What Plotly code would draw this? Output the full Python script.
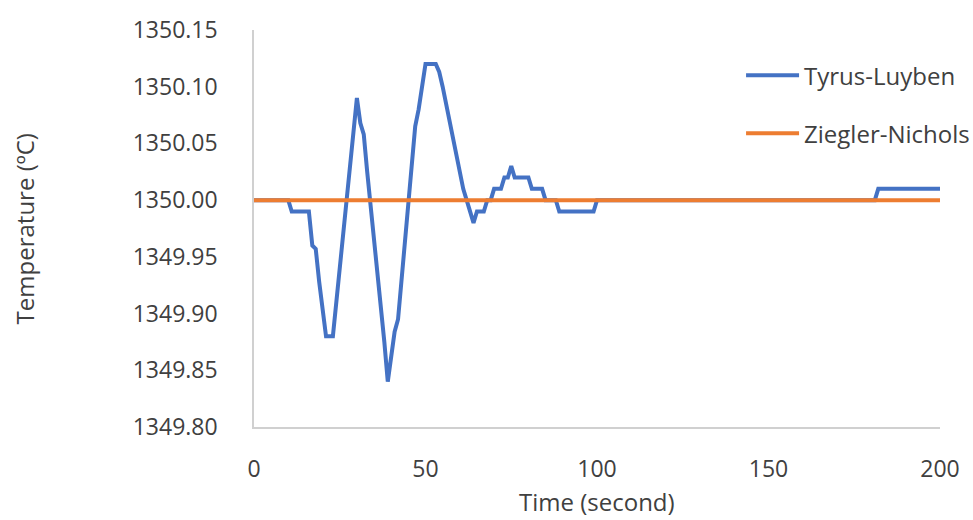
import plotly.graph_objects as go

# Tyrus-Luyben tuned response: breakpoints of the furnace temperature trace
tl_time = [0, 10, 11, 16, 17, 18, 19, 20, 21, 23, 24, 25, 26, 27, 28, 29, 30,
           31, 32, 33, 34, 35, 36, 37, 38, 39, 40, 41, 42, 43, 44, 45, 46, 47,
           48, 49, 50, 53, 54, 55, 56, 57, 58, 59, 60, 61, 62, 63, 64, 65, 67,
           68, 69, 70, 72, 73, 74, 75, 76, 80, 81, 84, 85, 88, 89, 99, 100,
           181, 182, 200]
tl_temp = [1350.00, 1350.00, 1349.99, 1349.99, 1349.96, 1349.957, 1349.928,
           1349.905, 1349.88, 1349.88, 1349.91, 1349.94, 1349.97, 1350.00,
           1350.03, 1350.06, 1350.09, 1350.068, 1350.058, 1350.025, 1349.995,
           1349.965, 1349.94, 1349.91, 1349.875, 1349.84, 1349.86, 1349.884,
           1349.895, 1349.93, 1349.965, 1349.995, 1350.03, 1350.065, 1350.08,
           1350.10, 1350.12, 1350.12, 1350.113, 1350.10, 1350.085, 1350.07,
           1350.055, 1350.04, 1350.025, 1350.01, 1350.00, 1349.99, 1349.98,
           1349.99, 1349.99, 1350.00, 1350.00, 1350.01, 1350.01, 1350.02,
           1350.02, 1350.03, 1350.02, 1350.02, 1350.01, 1350.01, 1350.00,
           1350.00, 1349.99, 1349.99, 1350.00, 1350.00, 1350.01, 1350.01]

# Ziegler-Nichols tuned response holds the set point
zn_time = [0, 200]
zn_temp = [1350.00, 1350.00]

x_ticks = [0, 50, 100, 150, 200]
y_ticks = [1349.80, 1349.85, 1349.90, 1349.95, 1350.00, 1350.05, 1350.10, 1350.15]

BLUE = "#4472C4"
ORANGE = "#ED7D31"
TEXT = "#404040"
AXIS = "#D0D0D0"
FONT = "Open Sans"

fig = go.Figure()
fig.add_trace(go.Scatter(x=tl_time, y=tl_temp, mode="lines", name="Tyrus-Luyben",
                         legendgroup="tl", line=dict(color=BLUE, width=4)))
fig.add_trace(go.Scatter(x=zn_time, y=zn_temp, mode="lines", name="Ziegler-Nichols",
                         legendgroup="zn", line=dict(color=ORANGE, width=4)))

fig.update_layout(
    width=973, height=520,
    margin=dict(l=254, r=33, t=30, b=93, autoexpand=False),
    paper_bgcolor="white", plot_bgcolor="white",
    font=dict(family=FONT, size=23, color=TEXT),
    showlegend=True,
    legend=dict(x=0.710, xanchor="left", y=0.942, yanchor="top",
                traceorder="grouped", tracegroupgap=24, itemwidth=53,
                bgcolor="rgba(0,0,0,0)", font=dict(size=24, color=TEXT)),
    xaxis=dict(range=[0, 200], tickvals=x_ticks, ticktext=[str(v) for v in x_ticks],
               showgrid=False, zeroline=False, showline=True, linecolor=AXIS,
               linewidth=1.5, ticks="", ticklabelstandoff=21),
    yaxis=dict(range=[1349.80, 1350.15], tickvals=y_ticks,
               ticktext=[f"{v:.2f}" for v in y_ticks],
               showgrid=False, zeroline=False, showline=True, linecolor=AXIS,
               linewidth=1.5, ticks="", ticklabelstandoff=30),
    annotations=[
        dict(text="Time (second)", xref="paper", yref="paper", x=0.5, y=-0.188,
             xanchor="center", yanchor="middle", showarrow=False,
             font=dict(size=24, color=TEXT)),
        dict(text="Temperature (ºC)", xref="paper", yref="paper", x=-0.334, y=0.5,
             xanchor="center", yanchor="middle", textangle=-90, showarrow=False,
             font=dict(size=24, color=TEXT)),
    ],
)

fig.write_html("out.html")
